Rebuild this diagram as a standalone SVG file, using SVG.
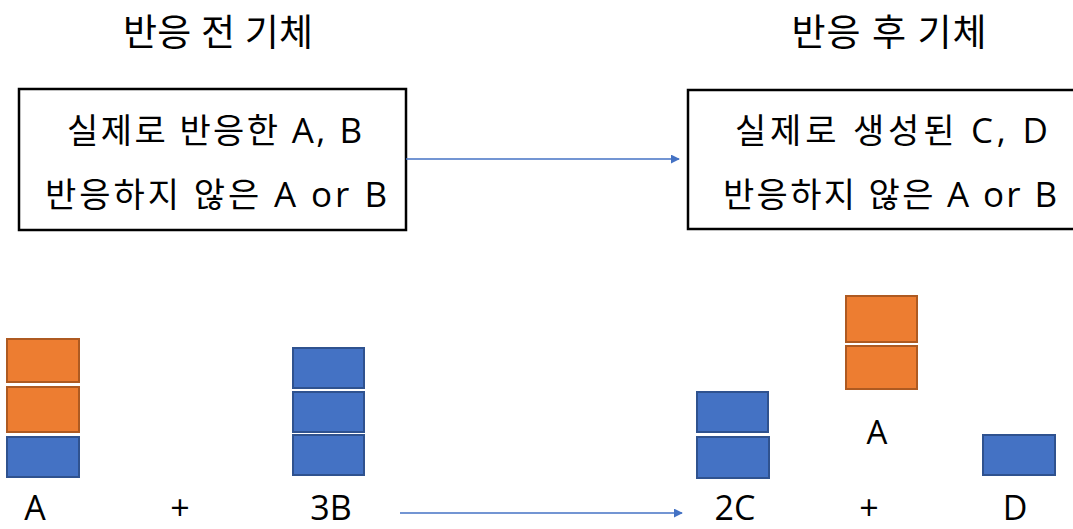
<svg xmlns="http://www.w3.org/2000/svg" width="1073" height="529" viewBox="0 0 1073 529">
<style>
text{font-family:"Open Sans","Noto Sans CJK KR",sans-serif;fill:#000}
.title{font-size:37px;text-anchor:middle}
.box{font-size:34px;text-anchor:start}
.lat{font-size:35px}
.lbl{font-size:34px;text-anchor:middle}
.frame{fill:#fff;stroke:#000;stroke-width:2.5}
.or{fill:#ED7D31;stroke:#AE5A21;stroke-width:2}
.bl{fill:#4472C4;stroke:#2F528F;stroke-width:2}
.conn{stroke:#4472C4;stroke-width:1.5;fill:none;marker-end:url(#ah)}
</style>
<defs>
<marker id="ah" viewBox="0 0 10 10" refX="9" refY="5" markerWidth="6" markerHeight="6" orient="auto" markerUnits="strokeWidth">
<path d="M0,0 L10,5 L0,10 z" fill="#4472C4"/>
</marker>
</defs>
<rect width="1073" height="529" fill="#fff"/>
<g id="title-before"><text class="title" x="218" y="46" textLength="190" lengthAdjust="spacing">반응 전 기체</text></g>
<g id="title-after"><text class="title" x="889" y="46" textLength="195" lengthAdjust="spacing">반응 후 기체</text></g>
<g id="box-before">
<rect class="frame" x="19" y="89" width="387" height="141"/>
<text class="box" x="67" y="143" textLength="295" lengthAdjust="spacing">실제로 반응한 <tspan class="lat">A, B</tspan></text>
<text class="box" x="45" y="207" textLength="342" lengthAdjust="spacing">반응하지 않은 <tspan class="lat">A or B</tspan></text>
</g>
<g id="box-after">
<rect class="frame" x="688" y="90" width="400" height="139"/>
<text class="box" x="735" y="143" textLength="313" lengthAdjust="spacing">실제로 생성된  <tspan class="lat">C, D</tspan></text>
<text class="box" x="723" y="207" textLength="334" lengthAdjust="spacing">반응하지 않은 <tspan class="lat">A or B</tspan></text>
</g>
<g id="stack-A">
<rect class="or" x="7" y="339" width="72" height="43"/>
<rect class="or" x="7" y="387" width="72" height="45"/>
<rect class="bl" x="7" y="437" width="72" height="40"/>
<text class="lbl" x="35" y="520">A</text>
</g>
<g id="plus-1"><text class="lbl" x="180" y="520">+</text></g>
<g id="stack-3B">
<rect class="bl" x="293" y="348" width="71" height="40"/>
<rect class="bl" x="293" y="392" width="71" height="40"/>
<rect class="bl" x="293" y="435" width="71" height="40"/>
<text class="lbl" x="331" y="520">3B</text>
</g>
<g id="stack-2C">
<rect class="bl" x="697" y="392" width="71" height="40"/>
<rect class="bl" x="697" y="437" width="72" height="41"/>
<text class="lbl" x="735" y="520">2C</text>
</g>
<g id="stack-A-left">
<rect class="or" x="846" y="296" width="71" height="46"/>
<rect class="or" x="846" y="346" width="71" height="43"/>
<text class="lbl" x="877" y="444" style="font-size:33px">A</text>
</g>
<g id="plus-2"><text class="lbl" x="869" y="520">+</text></g>
<g id="stack-D">
<rect class="bl" x="983" y="435" width="72" height="40"/>
<text class="lbl" x="1015" y="520">D</text>
</g>
<g id="connectors">
<line class="conn" x1="406" y1="159" x2="679" y2="159"/>
<line class="conn" x1="400" y1="513" x2="682" y2="513"/>
</g>
</svg>
